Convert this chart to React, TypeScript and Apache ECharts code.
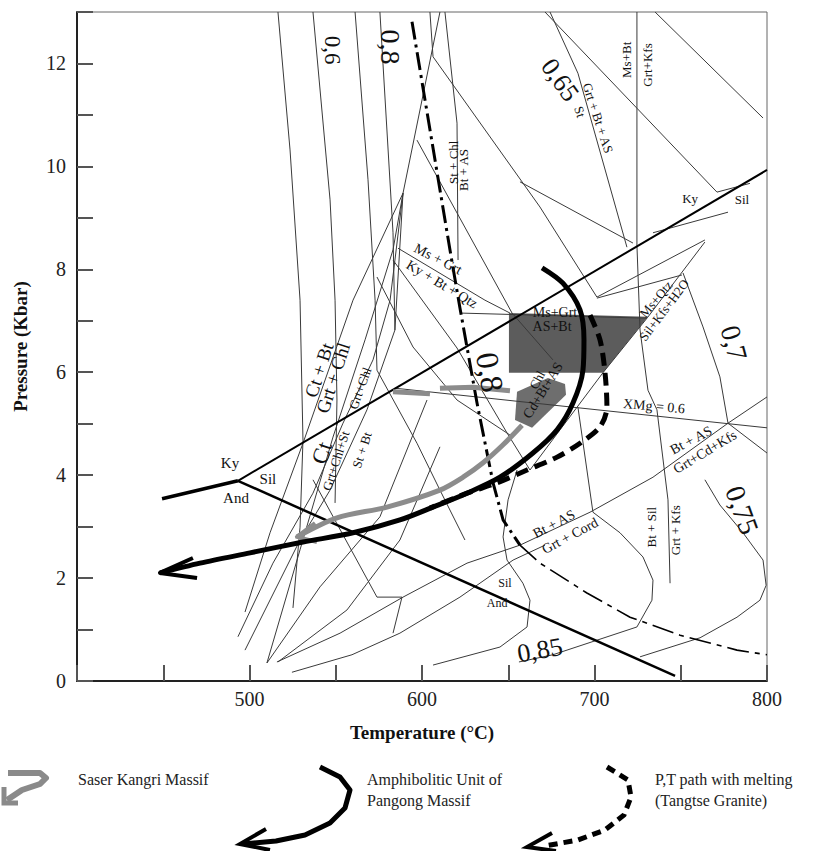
import React, { useEffect, useRef } from "react";
import * as echarts from "echarts";

type Pt = [number, number];
const FONT = '"Liberation Serif", "Times New Roman", serif';

// ---------- axis ticks ----------
const xTickLabels = [500, 600, 700, 800];
const yTickLabels = [0, 2, 4, 6, 8, 10, 12];

// ---------- Al2SiO5 triple point boundaries ----------
const kyAnd: Pt[] = [[449.3, 3.54], [493.3, 3.89]];
const kySil: Pt[] = [[493.3, 3.89], [800, 9.93]];
const silAnd: Pt[] = [[493.3, 3.89], [746.7, 0.1]];

// ---------- P-T paths ----------
const amphT = [669.6, 681.7, 691.6, 693.9, 693.3, 687.5, 678.3, 664.3, 645.2, 626.1, 606.4, 587.2, 560, 531, 500.3, 471.3, 448.1];
const amphP = [8.03, 7.73, 7.21, 6.63, 6.04, 5.4, 4.88, 4.43, 3.96, 3.65, 3.38, 3.13, 2.88, 2.7, 2.49, 2.29, 2.1];
const amphHead: Pt[] = [[467.2, 2.39], [448.1, 2.1], [469.6, 2.0]];

const saserDash1: Pt[] = [[583.2, 5.62], [604.6, 5.58]];
const saserDash2: Pt[] = [[610.4, 5.69], [629.6, 5.71], [651.0, 5.64]];
const saserT = [658, 647, 635.4, 623.8, 610.4, 579.7, 550.7, 527.5];
const saserP = [4.97, 4.59, 4.24, 3.96, 3.71, 3.38, 3.17, 2.8];
const saserHead: Pt[] = [[538, 3.07], [527.5, 2.8], [539.1, 2.7]];

const meltT = [697.4, 703.2, 706.1, 707.2, 703.2, 691.6, 678.3, 660.9, 643.5, 626.1, 604.6];
const meltP = [7.11, 6.63, 5.99, 5.32, 4.94, 4.62, 4.35, 4.1, 3.85, 3.65, 3.36];

// dash-dot reaction (upper heavy part and lower fine part)
const dashDotUpper: Pt[] = [[594.2, 12.81], [616.2, 8.38], [622.0, 7.25], [631.9, 5.4], [641.2, 3.85], [647.0, 3.13], [656.8, 2.64]];
const dashDotLower: Pt[] = [[656.8, 2.64], [668.4, 2.29], [695.6, 1.71], [720.6, 1.24], [749.6, 0.89], [782.6, 0.6], [800, 0.51]];

// ---------- shaded fields ----------
const peakBox: Pt[] = [[650.4, 7.15], [730.9, 7.08], [704.9, 5.99], [650.4, 5.99]];
const chlField: Pt[] = [[655.1, 5.62], [673.0, 5.89], [682.9, 5.77], [683.5, 5.56], [663.8, 4.92], [653.9, 5.07]];

// ---------- thin reaction lines / isopleths ----------
const iso1: Pt[] = [[516.5, 13], [523.5, 10.32], [529.3, 7.4], [531, 4.68], [529.3, 2.99], [525.2, 1.42]];
const iso2: Pt[] = [[536.8, 13], [546.7, 9.35], [549.6, 7.4], [550.7, 5.46], [549.6, 3.46]];
const iso3: Pt[] = [[561.2, 13], [568.7, 9.74], [572.8, 7.4], [573.9, 6.04]];
const iso4: Pt[] = [[575.6, 13], [583.2, 8.71], [584.3, 6.82]];
const diagA: Pt[] = [[610.4, 13], [589, 9.48], [560, 7.4], [531, 4.62], [511.9, 2.88], [497.4, 1.34]];
const fanB: Pt[] = [[589, 9.48], [583.2, 8.38], [567, 6.63], [548.4, 4.74], [529.3, 2.55], [510.1, 0.35]];
const fanC: Pt[] = [[589, 9.48], [581.5, 7.4], [571.6, 6.24], [554.2, 5.01], [536.8, 3.65], [513.6, 2.29], [493.3, 0.86]];
const fanD: Pt[] = [[589, 9.48], [584.3, 6.82], [568.1, 5.27], [546.7, 3.71], [529.3, 2.74], [497.4, 0.6]];
const msGrt: Pt[] = [[586.1, 8.41], [636.5, 7.4], [651.0, 7.15]];
const lineG2: Pt[] = [[583.2, 8.18], [620.3, 6.47], [649.3, 4.82], [662.6, 4.1]];
const lineG3: Pt[] = [[597.1, 10.51], [652.2, 7.15], [675.9, 6.24]];
const lineG5: Pt[] = [[604.6, 13], [606.4, 12.13], [668.4, 9.21], [701.4, 7.46]];
const grtBtAs: Pt[] = [[674.2, 13], [690.4, 11.81], [718.8, 8.43]];
const lineG7: Pt[] = [[671.3, 13], [724.6, 11.13], [771.0, 9.5], [790.1, 9.67]];
const lineG8: Pt[] = [[735.1, 13], [797.7, 10.94]];
const msBt: Pt[] = [[724.6, 13], [724.6, 8.47], [726.4, 6.82], [731, 5.65], [736.2, 5.27], [742.6, 3.52], [743.8, 1.9]];
const stChl: Pt[] = [[613.3, 13], [620.3, 10.84], [620.9, 8.18]];
const lineG11: Pt[] = [[733.9, 8.71], [777.4, 9.11]];
const lineG12: Pt[] = [[701.4, 7.46], [764.0, 8.57]];
const lineG13: Pt[] = [[701.4, 7.44], [750.7, 7.89]];
const msQtz: Pt[] = [[764, 8.53], [730.9, 7.07], [704.9, 5.99], [680, 4.88], [662.6, 4.1]];
const lineG14: Pt[] = [[622, 7.15], [730.4, 7.05]];
const xmgLine: Pt[] = [[584.3, 5.69], [687.5, 5.32], [800, 4.92]];
const lineG16: Pt[] = [[800, 5.52], [777.4, 5.01], [800, 4.43]];
const btAsCord: Pt[] = [[515.9, 0.37], [552.5, 0.93], [589, 1.63], [626.1, 2.29], [656.8, 2.64], [697.4, 3.28], [733.9, 3.96], [777.4, 5.01]];
const lineG18: Pt[] = [[524.6, 0.17], [559.4, 0.51], [587.2, 0.93], [622, 1.63], [652.8, 2.35], [671.3, 2.64]];
const loop085: Pt[] = [[606.4, 0.31], [645.2, 0.66], [660.9, 1.05], [662.6, 1.57], [658.5, 1.9], [649.3, 2.35], [647, 2.8], [649.9, 3.52], [655.1, 4.1]];
const iso085: Pt[] = [[656.2, 0.37], [675.9, 0.51], [724.6, 1.05], [733.3, 1.57], [733.9, 1.96], [728.1, 2.41], [714.8, 2.88], [699.1, 3.28], [690.4, 5.32]];
const iso075: Pt[] = [[726.4, 0.47], [761.2, 0.84], [782.6, 1.24], [795.9, 1.57], [799.5, 1.86], [797.7, 2.35], [786.1, 2.88], [772.7, 3.42], [764, 3.91]];
const iso070: Pt[] = [[751.3, 7.93], [762.9, 6.88], [772.7, 5.91], [777.4, 5.01]];
const lineG24: Pt[] = [[656.8, 9.7], [722.3, 8.51]];
const lineH: Pt[] = [[610.4, 4.55], [587.2, 2.74], [556.5, 1.38], [516.5, 0.37]];
const lineG: Pt[] = [[602.9, 5.46], [575.6, 3.19], [540.9, 1.83], [510.1, 0.35]];
const lineF: Pt[] = [[573.9, 6.04], [597.1, 4.62], [610.4, 3.71], [624.9, 2.74]];
const lineX: Pt[] = [[573.9, 7.85], [594.8, 6.49], [620.3, 5.46], [652.8, 4.74]];
const lineI: Pt[] = [[536.8, 3.91], [573.9, 1.63], [588.4, 1.63], [583.2, 0.93]];

const thinLines: Pt[][] = [
  iso1, iso2, iso3, iso4, diagA, fanB, fanC, fanD, msGrt, lineG2, lineG3, lineG5, grtBtAs, lineG7, lineG8,
  msBt, stChl, lineG11, lineG12, lineG13, msQtz, lineG14, xmgLine, lineG16, btAsCord, lineG18, loop085,
  iso085, iso075, iso070, lineG24, lineH, lineG, lineF, lineX, lineI,
];

// ---------- field labels ----------
const labelText = [
  "Ky", "Sil", "And", "Ky", "Sil", "Sil", "And", "Ms+Bt", "Grt+Kfs", "Grt + Bt + AS", "St",
  "St + Chl", "Bt + AS", "Ms + Grt", "Ky + Bt + Qtz", "Ms+Grt", "AS+Bt", "Ms+Qtz", "Sil+Kfs+H2O",
  "0,7", "0,75", "0,85", "0,65", "0,6", "0,8", "0,8", "Chl", "Cd+Bt+AS", "XMg = 0.6",
  "Bt + AS", "Grt+Cd+Kfs", "Bt + AS", "Grt + Cord", "Bt + Sil", "Grt + Kfs",
  "Ct + Bt", "Grt + Chl", "Grt+Chl", "Ct", "Grt+Chl+St", "St + Bt",
];
const labelT = [
  488.7, 510.7, 492.2, 755.4, 785.5, 648.1, 643.5, 718.8, 731, 702, 691.6,
  618, 623.9, 609.3, 611.6, 677.1, 675.4, 735.6, 740.3,
  780.9, 785.5, 668.4, 680, 548.4, 582, 639.4, 666.7, 670.1, 734.5,
  756, 764, 676.5, 685.8, 733.3, 746.7,
  540.3, 548.4, 564.1, 542, 550.1, 565.2,
];
const labelP = [
  4.24, 3.93, 3.56, 9.37, 9.35, 1.9, 1.52, 12.07, 11.97, 10.94, 11.06,
  10.08, 9.93, 8.2, 7.71, 7.17, 6.88, 7.42, 7.21,
  6.57, 3.32, 0.6, 11.68, 12.26, 12.32, 6.0, 5.85, 5.65, 5.34,
  4.68, 4.45, 3.05, 2.82, 2.99, 2.93,
  6.04, 5.89, 5.69, 4.43, 4.28, 4.49,
];

const labelRot = [
  0, 0, 0, 0, 0, 0, 0, 90, 90, -72, -72,
  90, 90, -27, -31, 0, 0, 50, 53,
  -75, -70, 10, -55, -90, -90, -80, 62, 58, -5,
  28, 31, 28, 28, 90, 90,
  72, 72, 70, 72, 72, 72,
];
const labelSize = [
  15, 15, 15, 13, 13, 12, 12, 13, 13, 13, 13,
  13, 13, 14, 14, 14, 14, 13, 13,
  28, 28, 26, 26, 23, 28, 32, 13, 14, 14,
  14, 14, 14, 14, 13, 13,
  19, 19, 13, 23, 13, 13,
];

const zip = (a: number[], b: number[]): Pt[] => a.map((v, i) => [v, b[i]]);

function lineSeries(data: Pt[], color: string, width: number, type: any = "solid", z = 3, smooth: number | boolean = false) {
  return {
    type: "line",
    data,
    showSymbol: false,
    symbol: "none",
    smooth,
    silent: true,
    z,
    lineStyle: { color, width, type, cap: "butt", join: "round" },
  };
}

function polySeries(pts: Pt[], color: string) {
  return {
    type: "custom",
    data: pts,
    silent: true,
    z: 2,
    renderItem: (params: any, api: any) => {
      if (params.dataIndex !== 0) return { type: "group", children: [] };
      const points = pts.map((p) => api.coord(p));
      return { type: "polygon", shape: { points }, style: { fill: color } };
    },
  };
}

export default function App() {
  const ref = useRef<HTMLDivElement>(null);
  useEffect(() => {
    if (!ref.current) return;
    const chart = echarts.init(ref.current, undefined, { renderer: "svg" });
    const series: any[] = [];
    thinLines.forEach((l) => series.push(lineSeries(l, "#3a3a3a", 1, "solid", 3)));
    series.push(polySeries(peakBox, "#5c5c5c"));
    series.push(polySeries(chlField, "#6e6e6e"));
    series.push(lineSeries(kyAnd, "#000", 3.5, "solid", 4));
    series.push(lineSeries(kySil, "#000", 2, "solid", 4));
    series.push(lineSeries(silAnd, "#000", 2.5, "solid", 4));
    series.push(lineSeries(dashDotUpper, "#000", 3, [18, 5, 3, 5], 5));
    series.push(lineSeries(dashDotLower, "#000", 1.6, [22, 6, 5, 6], 5));
    series.push(lineSeries(saserDash1, "#8c8c8c", 5, "solid", 6));
    series.push(lineSeries(saserDash2, "#8c8c8c", 5, "solid", 6));
    series.push(lineSeries(zip(saserT, saserP), "#8c8c8c", 5, "solid", 6, 0.3));
    series.push(lineSeries(saserHead, "#8c8c8c", 4, "solid", 6));
    series.push(lineSeries(zip(meltT, meltP), "#000", 5, [13, 7], 7, 0.3));
    series.push(lineSeries(zip(amphT, amphP), "#000", 5, "solid", 8, 0.3));
    series.push(lineSeries(amphHead, "#000", 4, "solid", 8));
    series.push({
      type: "custom",
      data: zip(labelT, labelP),
      silent: true,
      z: 10,
      clip: false,
      renderItem: (params: any, api: any) => {
        const i = params.dataIndex;
        const p = api.coord([api.value(0), api.value(1)]);
        return {
          type: "text",
          x: p[0],
          y: p[1],
          rotation: (labelRot[i] * Math.PI) / 180,
          style: {
            text: labelText[i],
            font: `${labelSize[i]}px ${FONT}`,
            fill: "#111",
            align: "center",
            verticalAlign: "middle",
          },
        };
      },
    });

    const legendText = (text: string, x: number, y: number) => ({
      type: "text",
      x,
      y,
      style: { text, font: `16px ${FONT}`, fill: "#222", verticalAlign: "middle" },
    });

    chart.setOption({
      animation: false,
      backgroundColor: "#fff",
      grid: { left: 77, top: 12, width: 690, height: 669, show: true, borderColor: "#666", borderWidth: 1 },
      xAxis: {
        type: "value",
        min: 400,
        max: 800,
        interval: 50,
        name: "Temperature (°C)",
        nameLocation: "middle",
        nameGap: 42,
        nameTextStyle: { fontFamily: FONT, fontSize: 19, fontWeight: "bold", color: "#111" },
        axisLine: { show: true, lineStyle: { color: "#222", width: 2 } },
        axisTick: { show: true, inside: true, length: 16, lineStyle: { color: "#555", width: 2 } },
        axisLabel: {
          fontFamily: FONT,
          fontSize: 20,
          color: "#222",
          margin: 8,
          formatter: (v: number) => (xTickLabels.includes(v) ? String(v) : ""),
        },
        splitLine: { show: false },
      },
      yAxis: {
        type: "value",
        min: 0,
        max: 13,
        interval: 1,
        name: "Pressure (Kbar)",
        nameLocation: "middle",
        nameGap: 47,
        nameTextStyle: { fontFamily: FONT, fontSize: 19, fontWeight: "bold", color: "#111" },
        axisLine: { show: true, lineStyle: { color: "#222", width: 2 } },
        axisTick: { show: true, inside: true, length: 16, lineStyle: { color: "#555", width: 2 } },
        axisLabel: {
          fontFamily: FONT,
          fontSize: 20,
          color: "#222",
          margin: 11,
          formatter: (v: number) => (yTickLabels.includes(v) ? String(v) : ""),
        },
        splitLine: { show: false },
      },
      series,
      graphic: [
        { type: "polyline", shape: { points: [[8, 773], [40, 773], [46, 778], [40, 784], [22, 790], [7, 800]] }, style: { stroke: "#8a8a8a", lineWidth: 6, fill: null, lineJoin: "round" } },
        { type: "polyline", shape: { points: [[4, 787], [4, 803], [18, 803]] }, style: { stroke: "#8a8a8a", lineWidth: 5, fill: null } },
        legendText("Saser Kangri Massif", 78, 779),
        { type: "polyline", shape: { points: [[320, 767], [340, 777], [350, 790], [345, 808], [330, 823], [305, 835], [276, 841], [244, 844]] }, style: { stroke: "#000", lineWidth: 5, fill: null, lineJoin: "round" } },
        { type: "polyline", shape: { points: [[266, 829], [240, 844], [270, 850]] }, style: { stroke: "#000", lineWidth: 4, fill: null } },
        legendText("Amphibolitic Unit of", 367, 779),
        legendText("Pangong Massif", 367, 800),
        { type: "polyline", shape: { points: [[607, 767], [628, 780], [631, 797], [624, 815], [605, 830], [578, 840], [545, 846]] }, style: { stroke: "#000", lineWidth: 5, fill: null, lineDash: [9, 6] } },
        { type: "polyline", shape: { points: [[552, 833], [527, 847], [556, 851]] }, style: { stroke: "#000", lineWidth: 4, fill: null } },
        legendText("P,T path with melting", 655, 779),
        legendText("(Tangtse Granite)", 655, 800),
      ],
    });
    return () => chart.dispose();
  }, []);
  return <div ref={ref} style={{ position: "fixed", left: 0, top: 0, width: 833, height: 851 }} />;
}
